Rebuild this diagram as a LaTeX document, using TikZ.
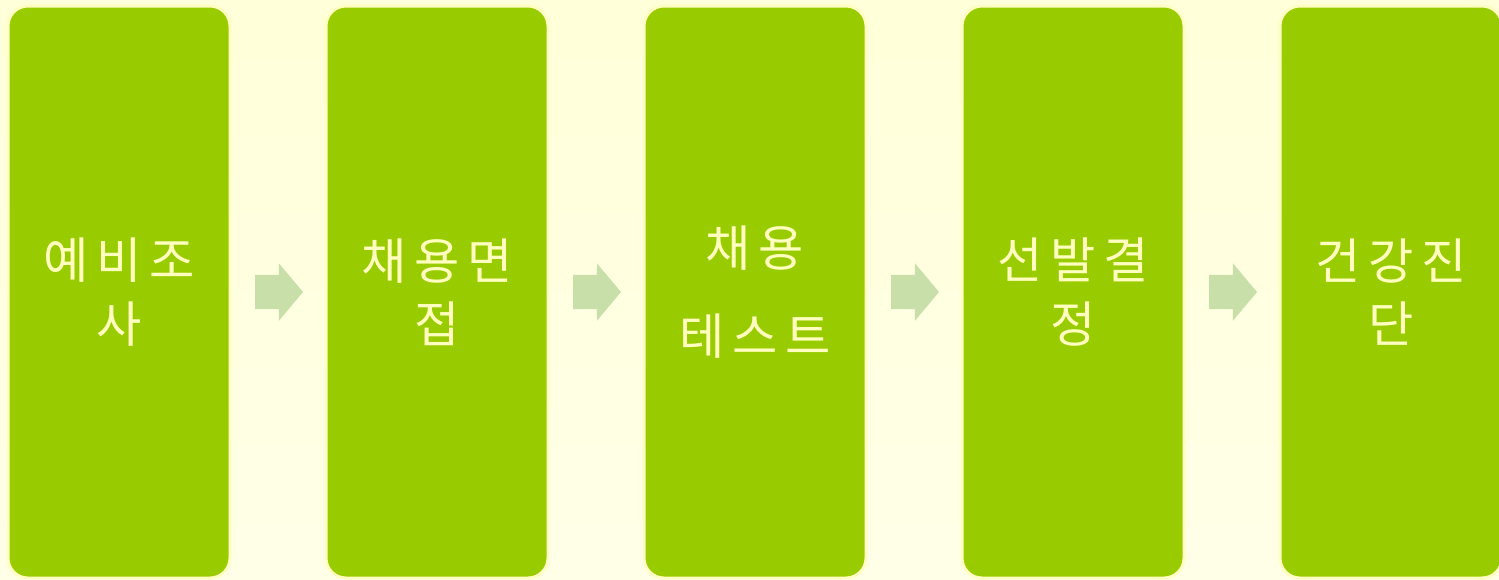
\documentclass[tikz,border=0pt]{standalone}
\usepackage{fontspec}
\newfontfamily\krfont{Noto Sans CJK KR}[LetterSpace=16]
\usetikzlibrary{positioning, shapes.arrows}

\definecolor{pagetop}{HTML}{FFFFD9}
\definecolor{pagebottom}{HTML}{FFFFE8}
\definecolor{stagegreen}{HTML}{99CC00}
\definecolor{stageline}{HTML}{FFFFC4}
\definecolor{stagetext}{HTML}{FFFFC0}
\definecolor{flowgreen}{RGB}{200,223,170}

\begin{document}
\begin{tikzpicture}[
  stage/.style={draw=stageline, line width=0.03cm, fill=stagegreen,
    rounded corners=0.2cm, minimum width=2.22cm, minimum height=5.72cm,
    outer sep=0pt, text=stagetext, align=center,
    font=\krfont\fontsize{14pt}{18pt}\selectfont},
  flow/.style={single arrow, fill=flowgreen, draw=none, minimum height=0.48cm,
    minimum width=0.56cm, single arrow head extend=0.115cm,
    single arrow tip angle=100, inner xsep=0pt, inner ysep=0.165cm,
    outer sep=0pt}
]

% Page background
\fill[top color=pagetop, bottom color=pagebottom] (0,0) rectangle (14.99,-5.79);
\useasboundingbox (0,0) rectangle (14.99,-5.79);

% Stage 1: 예비조사
\node[stage] (prescreen) at (1.19,-2.92) {예비조\\사};

% Stage 2: 채용면접
\node[stage, right=0.96cm of prescreen] (interview) {채용면\\접};

% Stage 3: 채용테스트
\node[stage, right=0.96cm of interview] (testing) {채용\\[0.25cm]테스트};

% Stage 4: 선발결정
\node[stage, right=0.96cm of testing] (selection) {선발결\\정};

% Stage 5: 건강진단
\node[stage, right=0.96cm of selection] (checkup) {건강진\\단};

% Arrows between stages
\node[flow, right=0.25cm of prescreen] (flowa) {};
\node[flow, right=0.25cm of interview] (flowb) {};
\node[flow, right=0.25cm of testing] (flowc) {};
\node[flow, right=0.25cm of selection] (flowd) {};

\end{tikzpicture}
\end{document}
